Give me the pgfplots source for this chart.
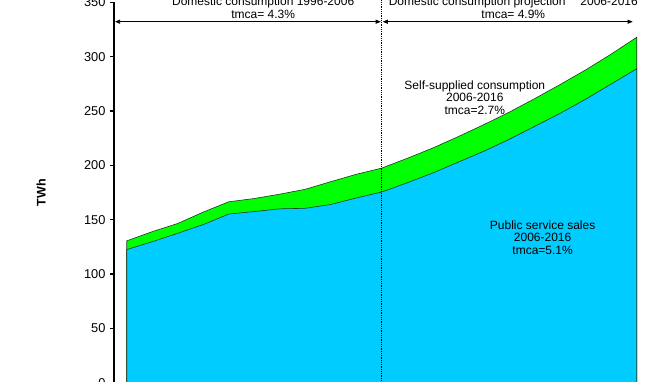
\documentclass[border=0pt]{standalone}
\usepackage{fontspec}
\setmainfont{Liberation Sans}
\usepackage{pgfplots}
\pgfplotsset{compat=1.18}
\usetikzlibrary{arrows.meta}
\definecolor{psblue}{HTML}{00CCFF}
\definecolor{ssgreen}{HTML}{00FF00}
\definecolor{edge}{HTML}{1E3A1E}
\newcommand{\tf}{\fontsize{12}{14}\selectfont}
\begin{document}
\begin{tikzpicture}[x=1pt,y=1pt]
\begin{axis}[
  at={(114pt,-1.6pt)}, anchor=south west,
  scale only axis, width=535.5pt, height=380.1pt,
  xmin=1995.5, xmax=2016.5, ymin=0, ymax=350,
  axis x line*=bottom, axis y line*=left,
  axis line style={line width=1.5pt, black},
  xtick=\empty,
  ytick={0,50,...,350},
  tick align=outside, major tick length=4pt,
  tick style={line width=1.2pt, black},
  /pgf/number format/assume math mode=true,
  tick label style={font=\fontsize{12.8}{14}\selectfont},
  yticklabel style={xshift=-1pt},
  ylabel={TWh},
  ylabel style={font=\bfseries\fontsize{12.5}{14}\selectfont, at={(axis description cs:-0.1363,0.5)}, anchor=center},
  clip=false,
]
\addplot[draw=edge, line width=0.6pt, fill=ssgreen] coordinates {
(1996,130.5)(1997,139)(1998,146.5)(1999,157)(2000,166.5)(2001,169.5)(2002,173.5)(2003,178)(2004,185)(2005,191.8)(2006,197.5)(2007,206.5)(2008,216)(2009,226.5)(2010,237.5)(2011,249)(2012,261.5)(2013,274.5)(2014,288)(2015,302.5)(2016,318)
} \closedcycle;
\addplot[draw=edge, line width=0.6pt, fill=psblue] coordinates {
(1996,122.5)(1997,129.7)(1998,137.5)(1999,145.5)(2000,155.2)(2001,157.5)(2002,160)(2003,160.5)(2004,164)(2005,170)(2006,175.5)(2007,184)(2008,193)(2009,203)(2010,213)(2011,224)(2012,236)(2013,248)(2014,261)(2015,275)(2016,289)
} \closedcycle;

\draw[densely dotted, line width=0.8pt] (axis cs:2006,0) -- (axis cs:2006,353);
\draw[{Triangle[length=5pt,width=4pt]}-{Triangle[length=5pt,width=4pt]}, line width=0.7pt]
  (axis cs:1995.54,332.3) -- (axis cs:2005.96,332.3);
\draw[{Triangle[length=5pt,width=4pt]}-{Triangle[length=5pt,width=4pt]}, line width=0.7pt]
  (axis cs:2006.04,332.3) -- (axis cs:2015.84,332.3);

\node[anchor=base, font=\tf, inner sep=0pt] at (axis cs:2001.35,346.8) {Domestic consumption 1996-2006};
\node[anchor=base, font=\tf, inner sep=0pt] at (axis cs:2001.35,335.3) {tmca= 4.3\%};
\node[anchor=base, font=\tf, inner sep=0pt] at (axis cs:2011.16,346.8) {Domestic consumption projection\hspace{1.24em}2006-2016};
\node[anchor=base, font=\tf, inner sep=0pt] at (axis cs:2011.16,335.3) {tmca= 4.9\%};

\node[anchor=base, font=\tf, inner sep=0pt] at (axis cs:2009.65,270.1) {Self-supplied consumption};
\node[anchor=base, font=\tf, inner sep=0pt] at (axis cs:2009.65,258.6) {2006-2016};
\node[anchor=base, font=\tf, inner sep=0pt] at (axis cs:2009.65,246.9) {tmca=2.7\%};

\node[anchor=base, font=\tf, inner sep=0pt] at (axis cs:2012.31,141.2) {Public service sales};
\node[anchor=base, font=\tf, inner sep=0pt] at (axis cs:2012.31,129.7) {2006-2016};
\node[anchor=base, font=\tf, inner sep=0pt] at (axis cs:2012.31,118.1) {tmca=5.1\%};
\end{axis}
\pgfresetboundingbox
\path[use as bounding box] (0,0) rectangle (665pt,381pt);
\end{tikzpicture}
\end{document}
